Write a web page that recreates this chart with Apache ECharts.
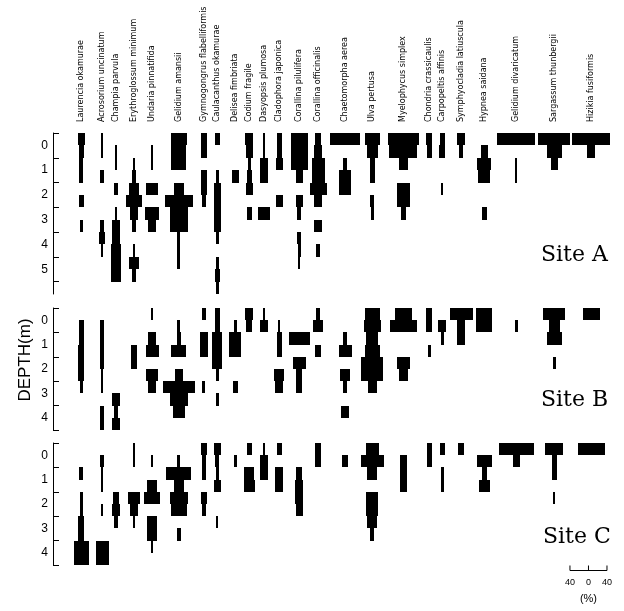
<!DOCTYPE html>
<html>
<head>
<meta charset="utf-8">
<script src="https://cdn.jsdelivr.net/npm/echarts@6/dist/echarts.min.js"></script>
<style>
  html, body { margin: 0; background: #fff; }
  #main { width: 624px; height: 611px; }
</style>
</head>
<body>
<div id="main"></div>
<script>
// species, left to right
const species = [
  'Laurencia okamurae', 'Acrosorium uncinatum', 'Champia parvula', 'Erythroglossum minimum',
  'Undaria pinnatifida', 'Gelidium amansii', 'Gymnogongrus flabelliformis', 'Caulacanthus okamurae',
  'Delisea fimbriata', 'Codium fragile', 'Dasyopsis plumosa', 'Cladophora japonica',
  'Corallina pilulifera', 'Corallina officinalis', 'Chaetomorpha aerea', 'Ulva pertusa',
  'Myelophycus simplex', 'Chondria crassicaulis', 'Carpopeltis affinis', 'Symphyocladia latiuscula',
  'Hypnea saidana', 'Gelidium divaricatum', 'Sargassum thunbergii', 'Hizikia fusiformis'
];

// column centres on the shared % axis (layout only)
const colPos = [61, 106, 136, 175, 214, 272, 326, 355, 394, 424, 456, 489,
  532, 573, 631, 690, 757, 813, 841, 882, 932, 1001, 1083, 1163];

// depth axes (m)
const depthLabelsA = [0, 1, 2, 3, 4, 5];
const depthTicksA = [-0.5, 0.5, 1.5, 2.5, 3.5, 4.5, 5.5];
const depthLabelsBC = [0, 1, 2, 3, 4];
const depthTicksBC = [-0.5, 0.5, 1.5, 2.5, 3.5, 4.5];

// cover (%) per 0.5 m depth step, first step starts at -0.5 m
const siteA = [
  [8, 5, 4, 4, 0, 5, 0, 3, 0, 0, 0, 0, 0],
  [2, 3, 0, 4, 0, 0, 0, 5, 6, 3, 0, 0, 0],
  [0, 3, 3, 0, 4, 0, 2, 8, 8, 11, 11, 11, 0],
  [0, 0, 2, 5, 11, 17, 9, 4, 0, 3, 11, 5, 0],
  [0, 3, 3, 0, 12, 0, 15, 8, 0, 0, 0, 0, 0],
  [18, 16, 16, 0, 10, 30, 20, 20, 3, 3, 3, 0, 0],
  [6, 6, 0, 7, 6, 5, 0, 0, 0, 0, 0, 0, 0],
  [6, 0, 0, 3, 8, 8, 7, 7, 3, 0, 3, 6, 3],
  [0, 0, 0, 7, 0, 0, 0, 0, 0, 0, 0, 0, 0],
  [9, 8, 3, 5, 8, 0, 5, 0, 0, 0, 0, 0, 0],
  [2, 2, 9, 9, 0, 0, 13, 0, 0, 0, 0, 0, 0],
  [5, 6, 8, 0, 0, 8, 0, 0, 0, 0, 0, 0, 0],
  [18, 18, 18, 8, 0, 8, 4, 0, 4, 3, 2, 0, 0],
  [7, 8, 14, 14, 18, 9, 0, 9, 0, 4, 0, 0, 0],
  [32, 0, 4, 13, 13, 0, 0, 0, 0, 0, 0, 0, 0],
  [16, 12, 5, 5, 0, 4, 3, 0, 0, 0, 0, 0, 0],
  [34, 30, 10, 0, 14, 14, 6, 0, 0, 0, 0, 0, 0],
  [6, 5, 0, 0, 0, 0, 0, 0, 0, 0, 0, 0, 0],
  [5, 7, 0, 0, 2, 0, 0, 0, 0, 0, 0, 0, 0],
  [8, 4, 0, 0, 0, 0, 0, 0, 0, 0, 0, 0, 0],
  [0, 7, 15, 13, 0, 0, 6, 0, 0, 0, 0, 0, 0],
  [41, 0, 2, 2, 0, 0, 0, 0, 0, 0, 0, 0, 0],
  [34, 16, 8, 0, 0, 0, 0, 0, 0, 0, 0, 0, 0],
  [41, 9, 0, 0, 0, 0, 0, 0, 0, 0, 0, 0, 0]
];
const siteB = [
  [0, 5, 5, 6, 6, 6, 3, 0, 0, 0],
  [0, 5, 4, 4, 4, 3, 3, 0, 5, 5],
  [0, 0, 0, 0, 0, 0, 0, 8, 5, 8],
  [0, 0, 0, 6, 6, 0, 0, 0, 0, 0],
  [3, 0, 9, 14, 0, 13, 9, 0, 0, 0],
  [0, 3, 5, 16, 0, 9, 35, 19, 13, 0],
  [5, 0, 9, 9, 0, 0, 3, 0, 0, 0],
  [5, 5, 11, 11, 11, 3, 0, 3, 0, 0],
  [0, 3, 13, 13, 0, 0, 5, 0, 0, 0],
  [9, 7, 0, 0, 0, 0, 0, 0, 0, 0],
  [3, 9, 0, 0, 0, 0, 0, 0, 0, 0],
  [0, 2, 6, 6, 0, 11, 9, 0, 0, 0],
  [0, 0, 23, 0, 14, 7, 7, 0, 0, 0],
  [4, 11, 0, 6, 0, 0, 0, 0, 0, 0],
  [0, 0, 5, 14, 0, 11, 5, 0, 9, 0],
  [16, 19, 13, 16, 24, 24, 9, 0, 0, 0],
  [18, 29, 0, 0, 14, 9, 0, 0, 0, 0],
  [6, 6, 0, 3, 0, 0, 0, 0, 0, 0],
  [0, 9, 3, 0, 0, 0, 0, 0, 0, 0],
  [25, 8, 8, 0, 0, 0, 0, 0, 0, 0],
  [17, 17, 0, 0, 0, 0, 0, 0, 0, 0],
  [0, 3, 0, 0, 0, 0, 0, 0, 0, 0],
  [24, 12, 16, 0, 3, 0, 0, 0, 0, 0],
  [18, 0, 0, 0, 0, 0, 0, 0, 0, 0]
];
const siteC = [
  [0, 0, 4, 0, 3, 3, 7, 7, 16, 16],
  [0, 4, 3, 3, 0, 3, 0, 0, 14, 14],
  [0, 0, 0, 0, 6, 8, 5, 0, 0, 0],
  [3, 3, 0, 0, 14, 9, 3, 0, 0, 0],
  [0, 3, 0, 11, 18, 0, 11, 11, 3, 0],
  [0, 3, 27, 11, 20, 18, 0, 4, 0, 0],
  [6, 5, 5, 0, 7, 5, 0, 0, 0, 0],
  [7, 4, 3, 7, 0, 0, 2, 0, 0, 0],
  [0, 3, 0, 0, 0, 0, 0, 0, 0, 0],
  [5, 0, 11, 12, 0, 0, 0, 0, 0, 0],
  [3, 9, 9, 0, 0, 0, 0, 0, 0, 0],
  [6, 0, 9, 9, 0, 0, 0, 0, 0, 0],
  [0, 0, 6, 9, 9, 8, 0, 0, 0, 0],
  [6, 6, 0, 0, 0, 0, 0, 0, 0, 0],
  [0, 7, 0, 0, 0, 0, 0, 0, 0, 0],
  [14, 25, 11, 0, 13, 13, 11, 4, 0, 0],
  [0, 8, 8, 7, 0, 0, 0, 0, 0, 0],
  [5, 5, 0, 0, 0, 0, 0, 0, 0, 0],
  [5, 0, 3, 3, 0, 0, 0, 0, 0, 0],
  [7, 0, 0, 0, 0, 0, 0, 0, 0, 0],
  [0, 16, 5, 12, 0, 0, 0, 0, 0, 0],
  [38, 7, 0, 0, 0, 0, 0, 0, 0, 0],
  [20, 5, 5, 0, 2, 0, 0, 0, 0, 0],
  [29, 0, 0, 0, 0, 0, 0, 0, 0, 0]
];
const siteNames = ['Site A', 'Site B', 'Site C'];
const scaleCentre = 1157;

const STEP = 0.5;

function kiteData(site) {
  const out = [];
  site.forEach((profile, i) => {
    profile.forEach((v, r) => {
      if (v > 0) out.push([colPos[i], -0.5 + r * STEP, -0.5 + (r + 1) * STEP, v]);
    });
  });
  return out;
}

function renderKite(params, api) {
  const c = api.value(0);
  const v = api.value(3);
  const p0 = api.coord([c - v, api.value(1)]);
  const p1 = api.coord([c + v, api.value(2)]);
  const x0 = Math.round(p0[0]);
  const x1 = Math.max(Math.round(p1[0]), x0 + 1);
  const y0 = Math.round(p0[1]);
  const y1 = Math.round(p1[1]);
  return {
    type: 'rect',
    shape: { x: x0, y: y0, width: x1 - x0, height: y1 - y0 },
    style: { fill: '#000' }
  };
}

function renderName(params, api) {
  const p = api.coord([api.value(0), -0.5]);
  return {
    type: 'text',
    x: p[0],
    y: p[1] - 11,
    rotation: Math.PI / 2,
    style: {
      text: species[params.dataIndex],
      fontSize: 8,
      fontFamily: 'DejaVu Sans',
      fill: '#000',
      align: 'left',
      verticalAlign: 'middle'
    }
  };
}

function renderScale(params, api) {
  const c = api.value(0);
  const pl = api.coord([c - 40, 4.5]);
  const pc = api.coord([c, 4.5]);
  const pr = api.coord([c + 40, 4.5]);
  const y = Math.round(pl[1]) + 5.5;
  const lineStyle = { stroke: '#000', lineWidth: 1, fill: null };
  const txt = (t, x, yy, size) => ({
    type: 'text', x: x, y: yy,
    style: { text: t, fontSize: size, fontFamily: 'Liberation Sans', fill: '#000', align: 'center', verticalAlign: 'middle' }
  });
  return {
    type: 'group',
    children: [
      { type: 'polyline', shape: { points: [[pl[0], y - 5], [pl[0], y], [pr[0], y], [pr[0], y - 5]] }, style: lineStyle },
      { type: 'line', shape: { x1: pc[0], y1: y - 5, x2: pc[0], y2: y }, style: lineStyle },
      txt('40', pl[0], y + 12, 9),
      txt('0', pc[0], y + 12, 9),
      txt('40', pr[0], y + 12, 9),
      txt('(%)', pc[0], y + 28, 11)
    ]
  };
}

function depthAxis(idx, max, ticks, labels) {
  return {
    type: 'value', gridIndex: idx, inverse: true, min: -0.5, max: max,
    axisLine: { show: true, lineStyle: { color: '#000', width: 1 } },
    axisTick: { show: true, inside: true, length: 6, customValues: ticks, lineStyle: { color: '#000' } },
    axisLabel: { show: true, customValues: labels, margin: 5, color: '#000', fontSize: 12, fontFamily: 'Liberation Sans' },
    splitLine: { show: false }
  };
}

const grids = [
  { left: 53, top: 133, width: 560, height: 161 },
  { left: 53, top: 308, width: 560, height: 122 },
  { left: 53, top: 443, width: 560, height: 122 }
];

const chart = echarts.init(document.getElementById('main'), null, { renderer: 'canvas' });

chart.setOption({
  animation: false,
  backgroundColor: '#fff',
  title: [
    { text: siteNames[0], left: 541, top: 244 },
    { text: siteNames[1], left: 541, top: 389 },
    { text: siteNames[2], left: 543, top: 526 }
  ].map(t => Object.assign(t, {
    padding: 0,
    textStyle: { fontFamily: 'DejaVu Serif', fontSize: 22, fontWeight: 'normal', color: '#000' }
  })),
  grid: grids,
  xAxis: grids.map((g, i) => ({ type: 'value', gridIndex: i, min: 0, max: 1210, show: false })),
  yAxis: [
    depthAxis(0, 6, depthTicksA, depthLabelsA),
    depthAxis(1, 4.5, depthTicksBC, depthLabelsBC),
    depthAxis(2, 4.5, depthTicksBC, depthLabelsBC)
  ],
  graphic: [{
    type: 'text', x: 25, y: 360, rotation: Math.PI / 2,
    style: { text: 'DEPTH(m)', fontSize: 17, fontFamily: 'Liberation Sans', fill: '#000', align: 'center', verticalAlign: 'middle' }
  }],
  series: [
    { type: 'custom', xAxisIndex: 0, yAxisIndex: 0, clip: false, renderItem: renderKite, data: kiteData(siteA) },
    { type: 'custom', xAxisIndex: 1, yAxisIndex: 1, clip: false, renderItem: renderKite, data: kiteData(siteB) },
    { type: 'custom', xAxisIndex: 2, yAxisIndex: 2, clip: false, renderItem: renderKite, data: kiteData(siteC) },
    { type: 'custom', xAxisIndex: 0, yAxisIndex: 0, clip: false, renderItem: renderName, data: colPos.map(p => [p]) },
    { type: 'custom', xAxisIndex: 2, yAxisIndex: 2, clip: false, renderItem: renderScale, data: [[scaleCentre]] }
  ]
});
</script>
</body>
</html>
